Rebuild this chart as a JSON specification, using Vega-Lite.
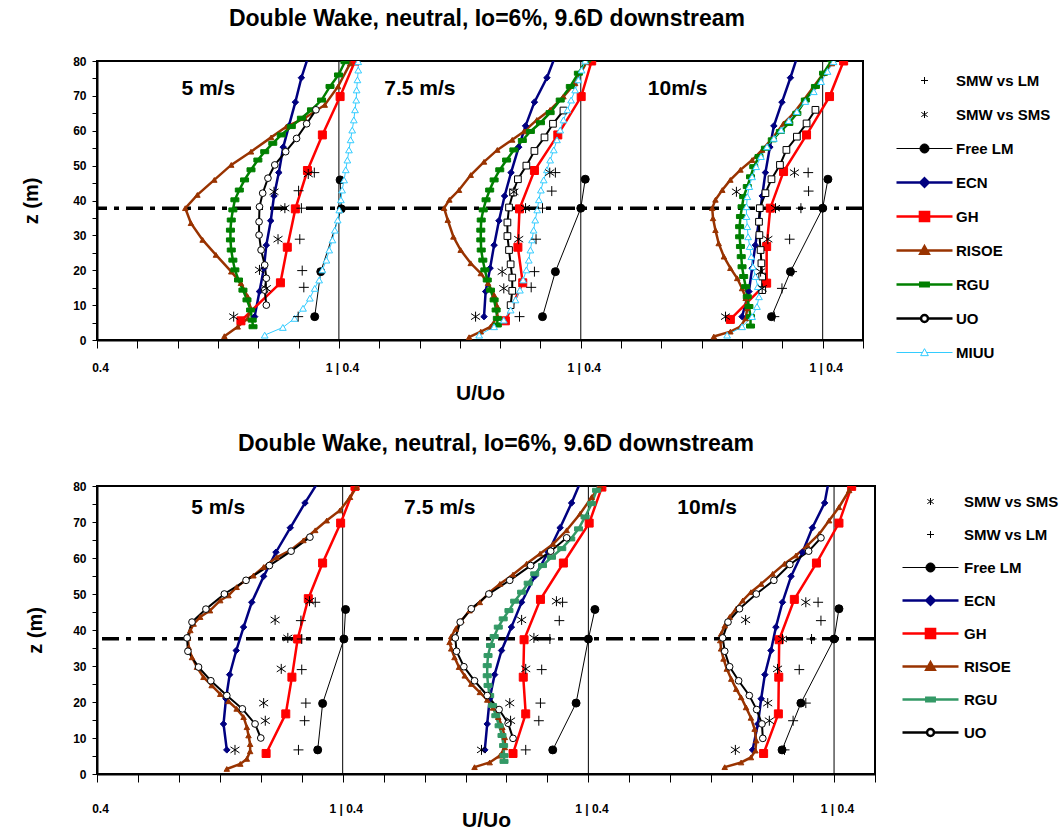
{
"$schema": "https://vega.github.io/schema/vega-lite/v6.json",
"padding": {"left": 20, "top": 7, "right": 0, "bottom": 0},
"background": "white",
"datasets": {
"top": [
{"s":"5","n":"ECN","u":[0.791,0.803,0.814,0.820,0.831,0.839,0.851,0.862,0.876,0.892,0.907,0.928],"z":[6.7,13.9,20.6,27.2,34.2,41.3,48.0,55.3,61.4,68.2,75.2,82.7]},
{"s":"5","n":"GH","u":[0.757,0.855,0.872,0.892,0.922,0.959,1.003,1.04],"z":[5.5,16.4,26.6,37.6,48.6,58.8,69.8,80]},
{"s":"5","n":"RISOE","u":[0.716,0.749,0.774,0.781,0.774,0.757,0.733,0.695,0.662,0.633,0.619,0.649,0.691,0.733,0.782,0.832,0.870,0.915,0.965,0.998,1.028],"z":[1.1,3.8,6.2,9.1,12.4,16.3,19.6,24.4,28.7,33.5,37.8,41.6,45.9,50.2,54.0,58.1,61.2,63.6,67.4,72.7,79.3]},
{"s":"5","n":"RGU","u":[0.787,0.785,0.781,0.772,0.762,0.751,0.742,0.737,0.733,0.731,0.731,0.733,0.737,0.742,0.753,0.766,0.782,0.799,0.816,0.836,0.857,0.882,0.907,0.932,0.957,0.978,0.999,1.015],"z":[3.8,5.7,8.6,11.5,14.3,17.2,20.1,22.9,25.8,28.7,31.5,34.4,37.3,40.2,43.0,45.9,48.8,51.6,54.0,56.4,58.8,61.2,63.6,66.0,68.8,72.7,76.0,79.8]},
{"s":"5","n":"UO","u":[0.820,0.816,0.820,0.816,0.807,0.802,0.802,0.803,0.811,0.824,0.841,0.868,0.895,0.920,0.943],"z":[10.0,14.3,17.7,21.5,25.8,30.1,33.9,38.2,42.1,46.4,50.2,54.0,57.8,62.0,66.0]},
{"s":"5","n":"Free LM","u":[0.940,0.955,1.006,1.003],"z":[6.7,19.6,37.6,45.9]},
{"s":"5","n":"MIUU","u":[0.816,0.861,0.890,0.911,0.928,0.940,0.951,0.959,0.969,0.976,0.984,0.990,0.997,1.001,1.005,1.008,1.013,1.017,1.021,1.025,1.029,1.033,1.037,1.040,1.043,1.044,1.046,1.048,1.048],"z":[1.4,3.6,6.2,9.1,12.0,14.8,17.2,20.1,22.9,25.8,28.7,31.5,34.4,37.3,40.2,43.0,45.9,48.8,51.6,54.5,57.4,60.2,63.1,66.0,68.8,71.7,74.6,77.4,79.8]},
{"s":"5","n":"SMW vs LM","u":[0.899,0.913,0.909,0.903,0.907,0.900,0.939],"z":[6.7,15.1,19.9,28.9,37.8,42.8,48.0]},
{"s":"5","n":"SMW vs SMS","u":[0.739,0.820,0.803,0.849,0.866,0.839,0.924],"z":[6.7,14.8,20.1,28.9,37.8,42.5,47.6]},
{"s":"7.5","n":"ECN","u":[0.760,0.764,0.775,0.785,0.797,0.811,0.827,0.846,0.863,0.885,0.916,0.941],"z":[6.7,13.9,20.6,27.2,34.2,41.3,48.0,55.3,61.4,68.2,75.2,82.7]},
{"s":"7.5","n":"GH","u":[0.813,0.856,0.844,0.848,0.885,0.943,1.001,1.027],"z":[5.5,16.4,26.6,37.6,48.6,58.8,69.8,80]},
{"s":"7.5","n":"RISOE","u":[0.723,0.752,0.776,0.793,0.793,0.785,0.770,0.752,0.727,0.702,0.684,0.670,0.661,0.674,0.698,0.727,0.760,0.793,0.830,0.859,0.891,0.924,0.957,0.986,1.015],"z":[0.8,2.4,3.8,6.7,9.6,12.9,16.3,19.1,22.0,25.8,29.6,34.4,37.8,40.2,43.0,47.3,51.1,54.5,57.4,59.8,63.1,66.0,69.8,73.6,79.8]},
{"s":"7.5","n":"RGU","u":[0.793,0.793,0.790,0.785,0.776,0.768,0.762,0.757,0.753,0.752,0.752,0.753,0.758,0.765,0.774,0.785,0.799,0.816,0.834,0.855,0.875,0.900,0.924,0.949,0.974,0.994,1.015],"z":[4.3,6.2,8.6,11.5,14.3,17.2,20.1,22.9,25.8,28.7,31.5,34.4,37.3,40.2,43.0,45.9,48.8,51.6,54.5,57.2,59.8,62.3,65.2,68.8,72.7,76.5,80.3]},
{"s":"7.5","n":"UO sq","u":[0.826,0.830,0.830,0.826,0.822,0.818,0.818,0.822,0.832,0.844,0.865,0.885,0.910,0.931,0.957],"z":[10.0,14.1,17.9,21.7,25.8,29.8,33.7,38.0,42.3,46.1,50.0,54.2,58.1,62.0,65.8]},
{"s":"7.5","n":"Free LM","u":[0.905,0.937,1.000,1.011],"z":[6.7,19.6,37.8,46.1]},
{"s":"7.5","n":"MIUU","u":[0.748,0.785,0.809,0.826,0.838,0.849,0.857,0.865,0.871,0.875,0.879,0.883,0.887,0.892,0.896,0.901,0.908,0.916,0.924,0.933,0.941,0.949,0.957,0.967,0.976,0.986,0.994,1.002,1.011],"z":[1.4,3.8,5.7,8.6,11.5,14.3,17.2,20.1,22.9,25.8,28.7,31.5,34.4,37.3,40.2,43.0,45.9,48.8,51.6,54.5,57.4,60.2,63.1,66.0,68.8,71.7,74.6,77.4,80.0]},
{"s":"7.5","n":"SMW vs LM","u":[0.848,0.877,0.885,0.889,0.905,0.928,0.937],"z":[6.7,15.1,19.6,28.9,37.8,42.7,48.0]},
{"s":"7.5","n":"SMW vs SMS","u":[0.739,0.809,0.805,0.846,0.863,0.834,0.923],"z":[6.7,14.8,19.6,28.9,37.8,42.5,48.0]},
{"s":"10","n":"ECN","u":[0.800,0.817,0.825,0.833,0.842,0.850,0.858,0.869,0.879,0.899,0.920,0.941],"z":[6.7,13.9,20.6,27.2,34.2,41.3,48.0,55.3,61.4,68.2,75.2,82.7]},
{"s":"10","n":"GH","u":[0.771,0.861,0.861,0.870,0.903,0.960,1.017,1.052],"z":[5.9,16.3,26.8,37.8,48.3,58.8,69.8,80]},
{"s":"10","n":"RISOE","u":[0.730,0.771,0.796,0.809,0.813,0.809,0.800,0.788,0.771,0.755,0.742,0.734,0.728,0.726,0.734,0.751,0.771,0.796,0.825,0.850,0.875,0.903,0.928,0.953,0.978,1.002,1.023],"z":[1.0,2.4,3.8,6.2,9.1,12.0,14.8,17.7,20.6,23.9,27.7,31.5,34.9,37.8,40.2,43.0,45.9,48.8,51.6,54.5,57.8,62.1,65.0,68.8,72.7,76.5,79.3]},
{"s":"10","n":"RGU","u":[0.821,0.821,0.817,0.813,0.809,0.804,0.800,0.798,0.796,0.794,0.794,0.796,0.800,0.804,0.813,0.821,0.829,0.842,0.858,0.875,0.895,0.916,0.936,0.957,0.982,1.002,1.023],"z":[4.0,6.7,9.6,12.4,15.3,18.2,21.0,23.9,26.8,29.6,32.5,35.4,38.2,41.1,44.0,46.8,49.7,52.6,55.0,57.4,59.8,62.1,65.0,68.8,72.7,76.5,80.3]},
{"s":"10","n":"UO sq","u":[0.850,0.850,0.848,0.846,0.843,0.842,0.844,0.858,0.873,0.894,0.910,0.936,0.960,0.982],"z":[14.3,18.2,22.0,25.8,30.1,33.9,37.8,42.1,46.1,50.2,54.5,58.3,62.1,66.0]},
{"s":"10","n":"Free LM","u":[0.873,0.920,1.000,1.013],"z":[6.7,19.6,37.8,46.1]},
{"s":"10","n":"MIUU","u":[0.763,0.800,0.825,0.837,0.842,0.839,0.833,0.827,0.823,0.819,0.815,0.813,0.811,0.811,0.813,0.818,0.825,0.835,0.847,0.862,0.879,0.897,0.916,0.936,0.957,0.978,0.996,1.012,1.027],"z":[1.4,3.8,6.7,9.6,12.4,15.3,18.2,21.0,23.9,26.8,29.6,32.5,35.4,38.2,41.1,44.0,46.8,49.7,52.6,55.4,57.8,60.2,62.9,65.5,68.4,71.2,74.1,77.0,79.8]},
{"s":"10","n":"SMW vs LM","u":[0.880,0.899,0.924,0.918,0.946,0.965,0.964],"z":[6.7,14.8,19.6,28.9,37.8,42.7,48.0]},
{"s":"10","n":"SMW vs SMS","u":[0.759,0.850,0.846,0.864,0.883,0.786,0.930],"z":[6.7,14.8,19.6,28.9,37.8,42.5,48.0]}
],
"bottom": [
{"s":"5","n":"ECN","u":[0.717,0.709,0.715,0.724,0.740,0.758,0.778,0.807,0.837,0.872,0.908,0.945],"z":[6.7,13.9,20.9,27.6,34.3,40.8,47.7,54.9,61.6,68.4,75.3,82]},
{"s":"5","n":"GH","u":[0.813,0.861,0.876,0.890,0.916,0.951,0.995,1.030],"z":[5.7,16.7,26.9,37.5,48.7,58.6,69.7,79.9]},
{"s":"5","n":"RISOE","u":[0.717,0.750,0.766,0.774,0.774,0.770,0.766,0.758,0.741,0.721,0.701,0.680,0.660,0.644,0.632,0.624,0.622,0.628,0.636,0.652,0.676,0.701,0.721,0.741,0.762,0.782,0.807,0.839,0.872,0.904,0.933,0.961,0.993,1.018,1.034],"z":[1.4,2.8,4.2,6.3,8.3,10.7,13.0,15.8,18.1,20.2,22.2,24.6,26.9,29.7,32.4,35.2,37.8,39.9,41.7,43.6,45.4,48.2,49.6,51.9,53.8,55.1,57.5,60.2,62.1,64.9,67.7,70.4,73.2,76.9,79.7]},
{"s":"5","n":"UO","u":[0.800,0.786,0.755,0.717,0.678,0.648,0.622,0.620,0.632,0.666,0.711,0.764,0.821,0.874,0.920],"z":[10.0,13.9,18.1,21.8,25.9,29.7,34.1,37.8,42.2,45.8,50.0,53.8,57.9,61.9,65.8]},
{"s":"5","n":"Free LM","u":[0.939,0.951,1.003,1.007],"z":[6.7,19.6,37.5,45.7]},
{"s":"5","n":"SMW vs SMS","u":[0.737,0.811,0.807,0.850,0.866,0.835,0.919],"z":[6.7,14.8,19.7,29.2,37.8,42.8,48.0]},
{"s":"5","n":"SMW vs LM","u":[0.892,0.907,0.910,0.900,0.900,0.898,0.933],"z":[6.7,14.8,19.7,29.0,37.5,42.6,47.7]},
{"s":"7.5","n":"ECN","u":[0.747,0.753,0.759,0.771,0.788,0.812,0.837,0.869,0.902,0.931,0.959,0.984],"z":[6.7,13.9,20.9,27.6,34.3,40.8,47.7,54.9,61.6,68.4,75.3,82]},
{"s":"7.5","n":"GH","u":[0.816,0.847,0.841,0.843,0.883,0.939,1.002,1.033],"z":[5.7,16.7,26.9,37.3,48.5,58.6,69.7,79.7]},
{"s":"7.5","n":"RISOE","u":[0.722,0.759,0.784,0.796,0.796,0.790,0.780,0.767,0.753,0.735,0.714,0.698,0.684,0.673,0.665,0.661,0.665,0.676,0.690,0.710,0.735,0.759,0.784,0.816,0.849,0.882,0.914,0.947,0.980,1.008,1.029],"z":[1.9,3.2,5.1,7.4,10.2,13.0,15.8,18.4,20.6,22.7,25.0,27.3,29.7,32.4,34.8,36.6,38.2,40.3,42.6,45.4,47.7,50.5,52.8,55.4,58.4,61.2,63.9,67.7,72.3,76.9,79.9]},
{"s":"7.5","n":"RGU","u":[0.794,0.794,0.793,0.789,0.782,0.774,0.766,0.759,0.755,0.753,0.753,0.755,0.761,0.770,0.780,0.792,0.806,0.820,0.837,0.853,0.869,0.888,0.910,0.935,0.957,0.976,0.992,1.008,1.020,1.029],"z":[3.5,5.1,7.9,10.7,13.4,16.2,19.0,21.8,24.6,27.3,30.1,32.9,35.7,38.2,40.8,43.1,45.4,48.0,50.5,53.0,55.6,57.9,60.2,62.6,65.3,68.1,71.4,75.1,78.8,81.6]},
{"s":"7.5","n":"UO","u":[0.816,0.804,0.782,0.753,0.722,0.696,0.678,0.675,0.687,0.714,0.757,0.808,0.859,0.908,0.947],"z":[9.9,14.1,17.9,21.8,25.9,29.8,34.1,37.8,42.2,45.9,50.0,53.8,57.9,61.9,65.6]},
{"s":"7.5","n":"Free LM","u":[0.913,0.970,1.000,1.016],"z":[6.7,19.7,37.5,45.7]},
{"s":"7.5","n":"SMW vs SMS","u":[0.739,0.810,0.808,0.847,0.867,0.837,0.922],"z":[6.7,14.8,19.7,29.2,37.8,42.8,48.0]},
{"s":"7.5","n":"SMW vs LM","u":[0.847,0.879,0.883,0.886,0.906,0.929,0.937],"z":[6.7,14.8,19.7,29.0,37.5,42.6,47.7]},
{"s":"10","n":"ECN","u":[0.801,0.814,0.822,0.831,0.846,0.858,0.874,0.895,0.923,0.947,0.977,0.988],"z":[6.7,13.9,20.9,27.6,34.3,40.8,47.7,54.9,61.6,68.4,75.3,82]},
{"s":"10","n":"GH","u":[0.828,0.864,0.865,0.866,0.903,0.957,1.012,1.043],"z":[5.7,16.7,26.9,37.3,48.5,58.6,69.7,79.9]},
{"s":"10","n":"RISOE","u":[0.733,0.773,0.797,0.808,0.810,0.806,0.797,0.785,0.773,0.761,0.749,0.738,0.730,0.724,0.722,0.724,0.733,0.745,0.761,0.777,0.797,0.822,0.850,0.879,0.907,0.935,0.964,0.988,1.012,1.037],"z":[1.9,3.2,4.6,6.5,9.3,12.5,15.6,18.5,21.3,23.6,26.4,29.2,32.0,34.8,37.1,38.9,41.2,43.6,45.9,48.2,50.5,52.8,55.6,58.4,60.7,63.5,66.7,70.4,74.1,78.8]},
{"s":"10","n":"UO","u":[0.826,0.824,0.811,0.793,0.767,0.745,0.733,0.728,0.741,0.769,0.810,0.853,0.892,0.938,0.968],"z":[9.9,13.9,17.9,21.8,25.9,29.8,34.1,37.8,42.2,45.9,50.0,53.8,58.2,61.9,65.6]},
{"s":"10","n":"Free LM","u":[0.873,0.919,1.000,1.012],"z":[6.7,19.7,37.5,45.9]},
{"s":"10","n":"SMW vs SMS","u":[0.759,0.842,0.838,0.862,0.874,0.784,0.931],"z":[6.7,14.8,19.7,29.2,37.5,42.8,47.7]},
{"s":"10","n":"SMW vs LM","u":[0.879,0.900,0.931,0.915,0.945,0.968,0.961],"z":[6.7,14.8,19.7,29.0,37.5,42.6,47.7]}
]
},
"spacing": 28,
"resolve": {"scale": {"stroke": "independent", "fill": "independent", "shape": "independent"}},
"vconcat": [
{
"data": {"name": "top"},
"transform": [{"flatten": ["u", "z"]}],
"title": {"text": "Double Wake, neutral, Io=6%, 9.6D downstream", "offset": 24, "dx": 7},
"width": 766, "height": 279,
"resolve": {"scale": {"x": "independent", "y": "independent"}},
"layer": [
{"data": {"values": [{}]}, "mark": {"type": "rule", "color": "black", "strokeWidth": 3.5, "strokeDash": [17, 7, 5, 7]}, "encoding": {"y": {"datum": 37.8, "type": "quantitative", "scale": {"domain": [0, 80], "nice": false, "zero": false}, "axis": null}}},
{"layer": [
 {"data": {"values": [{}]}, "mark": {"type": "rule", "color": "black", "strokeWidth": 1}, "encoding": {
   "x": {"datum": 1, "type": "quantitative", "scale": {"domain": [0.4, 2.3], "nice": false, "zero": false}, "axis": {"title": "U/Uo", "orient": "bottom", "values": [0.4,0.5,0.6,0.7,0.8,0.9,1,1.1,1.2,1.3,1.4,1.5,1.6,1.7,1.8,1.9,2,2.1,2.2,2.3], "labelExpr": "abs(datum.value-0.4)<0.01 ? '0.4' : (abs(datum.value-1)<0.01 || abs(datum.value-1.6)<0.01 || abs(datum.value-2.2)<0.01) ? '1 | 0.4' : ''", "labelFlush": false, "labelOverlap": false, "tickSize": 8, "labelPadding": 14, "labelOffset": 3, "titlePadding": 9}},
   "y": {"datum": 0, "type": "quantitative", "scale": {"domain": [0, 80], "nice": false, "zero": false}, "axis": {"title": "z (m)", "orient": "left", "values": [0,5,10,15,20,25,30,35,40,45,50,55,60,65,70,75,80], "labelExpr": "datum.value % 10 == 0 ? datum.label : ''", "tickSize": 5, "labelPadding": 6, "titlePadding": 31}},
   "y2": {"datum": 80}}},
 {"transform": [{"filter": "datum.s == '5'"}],
  "encoding": {
   "x": {"field": "u", "type": "quantitative", "scale": {"domain": [0.4, 2.3], "nice": false, "zero": false}, "axis": {"title": "U/Uo", "orient": "bottom", "values": [0.4,0.5,0.6,0.7,0.8,0.9,1,1.1,1.2,1.3,1.4,1.5,1.6,1.7,1.8,1.9,2,2.1,2.2,2.3], "labelExpr": "abs(datum.value-0.4)<0.01 ? '0.4' : (abs(datum.value-1)<0.01 || abs(datum.value-1.6)<0.01 || abs(datum.value-2.2)<0.01) ? '1 | 0.4' : ''", "labelFlush": false, "labelOverlap": false, "tickSize": 8, "labelPadding": 14, "labelOffset": 3, "titlePadding": 9}},
   "y": {"field": "z", "type": "quantitative", "scale": {"domain": [0, 80], "nice": false, "zero": false}, "axis": {"title": "z (m)", "orient": "left", "values": [0,5,10,15,20,25,30,35,40,45,50,55,60,65,70,75,80], "labelExpr": "datum.value % 10 == 0 ? datum.label : ''", "tickSize": 5, "labelPadding": 6, "titlePadding": 31}},
   "stroke": {"field": "n", "type": "nominal", "scale": {"domain": ["SMW vs LM","SMW vs SMS","Free LM","ECN","GH","RISOE","RGU","UO","MIUU","UO sq"], "range": ["#000000","#000000","#000000","#000080","#ff0000","#993300","#008000","#000000","#33ccff","#000000"]},
     "legend": {"title": null, "orient": "right", "offset": 42, "padding": 12, "values": ["SMW vs LM","SMW vs SMS","Free LM","ECN","GH","RISOE","RGU","UO","MIUU"], "labelOffset": 24, "rowPadding": 13, "gridAlign": "all", "symbolSize": 49,
      "encoding": {"symbols": {
       "shape": {"value": {"expr": "datum.value=='SMW vs LM' ? 'M-1,0H1M0,-1V1' : datum.value=='SMW vs SMS' ? 'M0,-1V1M-0.9,-0.6L0.9,0.6M-0.9,0.6L0.9,-0.6' : datum.value=='Free LM' ? 'M-8,0H8M-1.3,0A1.3,1.3,0,1,0,1.3,0A1.3,1.3,0,1,0,-1.3,0Z' : datum.value=='ECN' ? 'M-8,0H8M0,-1.2L1.2,0L0,1.2L-1.2,0Z' : datum.value=='GH' ? 'M-8,0H8M-1.3,-1.3H1.3V1.3H-1.3Z' : datum.value=='RISOE' ? 'M-8,0H8M0,-1.2L1.2,0.9H-1.2Z' : datum.value=='RGU' ? 'M-8,0H8M-1.2,-0.5H1.2V0.5H-1.2Z' : datum.value=='UO' ? 'M-8,0H-1M1,0H8M-1,0A1,1,0,1,0,1,0A1,1,0,1,0,-1,0Z' : 'M-8,0H-0.6M0.6,0H8M0,-1.1L1.1,0.9H-1.1Z'"}},
       "fill": {"value": {"expr": "datum.value=='Free LM' ? '#000000' : datum.value=='ECN' ? '#000080' : datum.value=='GH' ? '#ff0000' : datum.value=='RISOE' ? '#993300' : datum.value=='RGU' ? '#008000' : (datum.value=='UO' || datum.value=='MIUU') ? '#ffffff' : 'transparent'"}},
       "strokeWidth": {"value": {"expr": "(datum.value=='Free LM' || datum.value=='MIUU' || datum.value=='SMW vs LM' || datum.value=='SMW vs SMS') ? 1 : 2.5"}},
       "size": {"value": 49}
      }}}}
  },
  "layer": [
   {"mark": {"type": "line", "clip": true}, "transform": [{"filter": "datum.n != 'SMW vs LM' && datum.n != 'SMW vs SMS'"}], "encoding": {"strokeWidth": {"condition": [{"test": "datum.n == 'Free LM' || datum.n == 'MIUU'", "value": 1}, {"test": "datum.n == 'UO' || datum.n == 'UO sq'", "value": 2}], "value": 2.5}, "order": {"field": "z", "type": "quantitative"}}},
   {"mark": {"type": "point", "filled": true, "opacity": 1, "strokeWidth": 1, "clip": true}, "encoding": {
     "shape": {"field": "n", "type": "nominal", "scale": {"domain": ["UO sq","MIUU","UO","RGU","RISOE","GH","ECN","Free LM","SMW vs SMS","SMW vs LM"], "range": ["square","triangle-up","circle","M-1,-0.5H1V0.5H-1Z","triangle-up","square","diamond","circle","M0,-1V1M-0.9,-0.6L0.9,0.6M-0.9,0.6L0.9,-0.6","M-1,0H1M0,-1V1"]}, "legend": null},
     "fill": {"field": "n", "type": "nominal", "scale": {"domain": ["UO sq","MIUU","UO","RGU","RISOE","GH","ECN","Free LM","SMW vs SMS","SMW vs LM"], "range": ["#ffffff","#ffffff","#ffffff","#008000","#993300","#ff0000","#000080","#000000","transparent","transparent"]}, "legend": null},
     "size": {"condition": [{"test": "datum.n=='SMW vs LM' || datum.n=='SMW vs SMS'", "value": 100}, {"test": "datum.n=='GH' || datum.n=='Free LM' || datum.n=='RGU'", "value": 64}, {"test": "datum.n=='ECN'", "value": 42}, {"test": "datum.n=='RISOE'", "value": 30}], "value": 45}
   }}
  ]
 },
 {"data": {"values": [{}]}, "mark": {"type": "text", "font": "Liberation Sans", "fontSize": 21, "fontWeight": "bold", "color": "black"}, "encoding": {
   "x": {"datum": 0.676, "type": "quantitative", "scale": {"domain": [0.4, 2.3], "nice": false, "zero": false}, "axis": {"title": "U/Uo", "orient": "bottom", "values": [0.4,0.5,0.6,0.7,0.8,0.9,1,1.1,1.2,1.3,1.4,1.5,1.6,1.7,1.8,1.9,2,2.1,2.2,2.3], "labelExpr": "abs(datum.value-0.4)<0.01 ? '0.4' : (abs(datum.value-1)<0.01 || abs(datum.value-1.6)<0.01 || abs(datum.value-2.2)<0.01) ? '1 | 0.4' : ''", "labelFlush": false, "labelOverlap": false, "tickSize": 8, "labelPadding": 14, "labelOffset": 3, "titlePadding": 9}},
   "y": {"datum": 72, "type": "quantitative", "scale": {"domain": [0, 80], "nice": false, "zero": false}, "axis": {"title": "z (m)", "orient": "left", "values": [0,5,10,15,20,25,30,35,40,45,50,55,60,65,70,75,80], "labelExpr": "datum.value % 10 == 0 ? datum.label : ''", "tickSize": 5, "labelPadding": 6, "titlePadding": 31}},
   "text": {"value": "5 m/s"}}}
]},
{"layer": [
 {"data": {"values": [{}]}, "mark": {"type": "rule", "color": "black", "strokeWidth": 1}, "encoding": {"x": {"datum": 1, "type": "quantitative", "scale": {"domain": [-0.2, 1.7], "nice": false, "zero": false}, "axis": null}, "y": {"datum": 0, "type": "quantitative", "scale": {"domain": [0, 80], "nice": false, "zero": false}, "axis": null}, "y2": {"datum": 80}}},
 {"transform": [{"filter": "datum.s == '7.5'"}],
  "encoding": {
   "x": {"field": "u", "type": "quantitative", "scale": {"domain": [-0.2, 1.7], "nice": false, "zero": false}, "axis": null},
   "y": {"field": "z", "type": "quantitative", "scale": {"domain": [0, 80], "nice": false, "zero": false}, "axis": null},
   "stroke": {"field": "n", "type": "nominal", "scale": {"domain": ["SMW vs LM","SMW vs SMS","Free LM","ECN","GH","RISOE","RGU","UO","MIUU","UO sq"], "range": ["#000000","#000000","#000000","#000080","#ff0000","#993300","#008000","#000000","#33ccff","#000000"]}}
  },
  "layer": [
   {"mark": {"type": "line", "clip": true}, "transform": [{"filter": "datum.n != 'SMW vs LM' && datum.n != 'SMW vs SMS'"}], "encoding": {"strokeWidth": {"condition": [{"test": "datum.n == 'Free LM' || datum.n == 'MIUU'", "value": 1}, {"test": "datum.n == 'UO' || datum.n == 'UO sq'", "value": 2}], "value": 2.5}, "order": {"field": "z", "type": "quantitative"}}},
   {"mark": {"type": "point", "filled": true, "opacity": 1, "strokeWidth": 1, "clip": true}, "encoding": {
     "shape": {"field": "n", "type": "nominal", "scale": {"domain": ["UO sq","MIUU","UO","RGU","RISOE","GH","ECN","Free LM","SMW vs SMS","SMW vs LM"], "range": ["square","triangle-up","circle","M-1,-0.5H1V0.5H-1Z","triangle-up","square","diamond","circle","M0,-1V1M-0.9,-0.6L0.9,0.6M-0.9,0.6L0.9,-0.6","M-1,0H1M0,-1V1"]}, "legend": null},
     "fill": {"field": "n", "type": "nominal", "scale": {"domain": ["UO sq","MIUU","UO","RGU","RISOE","GH","ECN","Free LM","SMW vs SMS","SMW vs LM"], "range": ["#ffffff","#ffffff","#ffffff","#008000","#993300","#ff0000","#000080","#000000","transparent","transparent"]}, "legend": null},
     "size": {"condition": [{"test": "datum.n=='SMW vs LM' || datum.n=='SMW vs SMS'", "value": 100}, {"test": "datum.n=='GH' || datum.n=='Free LM' || datum.n=='RGU'", "value": 64}, {"test": "datum.n=='ECN'", "value": 42}, {"test": "datum.n=='RISOE'", "value": 30}], "value": 45}
   }}
  ]
 },
 {"data": {"values": [{}]}, "mark": {"type": "text", "font": "Liberation Sans", "fontSize": 21, "fontWeight": "bold", "color": "black"}, "encoding": {"x": {"datum": 0.601, "type": "quantitative", "scale": {"domain": [-0.2, 1.7], "nice": false, "zero": false}, "axis": null}, "y": {"datum": 72, "type": "quantitative", "scale": {"domain": [0, 80], "nice": false, "zero": false}, "axis": null}, "text": {"value": "7.5 m/s"}}}
]},
{"layer": [
 {"data": {"values": [{}]}, "mark": {"type": "rule", "color": "black", "strokeWidth": 1}, "encoding": {"x": {"datum": 1, "type": "quantitative", "scale": {"domain": [-0.8, 1.1], "nice": false, "zero": false}, "axis": null}, "y": {"datum": 0, "type": "quantitative", "scale": {"domain": [0, 80], "nice": false, "zero": false}, "axis": null}, "y2": {"datum": 80}}},
 {"transform": [{"filter": "datum.s == '10'"}],
  "encoding": {
   "x": {"field": "u", "type": "quantitative", "scale": {"domain": [-0.8, 1.1], "nice": false, "zero": false}, "axis": null},
   "y": {"field": "z", "type": "quantitative", "scale": {"domain": [0, 80], "nice": false, "zero": false}, "axis": null},
   "stroke": {"field": "n", "type": "nominal", "scale": {"domain": ["SMW vs LM","SMW vs SMS","Free LM","ECN","GH","RISOE","RGU","UO","MIUU","UO sq"], "range": ["#000000","#000000","#000000","#000080","#ff0000","#993300","#008000","#000000","#33ccff","#000000"]}}
  },
  "layer": [
   {"mark": {"type": "line", "clip": true}, "transform": [{"filter": "datum.n != 'SMW vs LM' && datum.n != 'SMW vs SMS'"}], "encoding": {"strokeWidth": {"condition": [{"test": "datum.n == 'Free LM' || datum.n == 'MIUU'", "value": 1}, {"test": "datum.n == 'UO' || datum.n == 'UO sq'", "value": 2}], "value": 2.5}, "order": {"field": "z", "type": "quantitative"}}},
   {"mark": {"type": "point", "filled": true, "opacity": 1, "strokeWidth": 1, "clip": true}, "encoding": {
     "shape": {"field": "n", "type": "nominal", "scale": {"domain": ["UO sq","MIUU","UO","RGU","RISOE","GH","ECN","Free LM","SMW vs SMS","SMW vs LM"], "range": ["square","triangle-up","circle","M-1,-0.5H1V0.5H-1Z","triangle-up","square","diamond","circle","M0,-1V1M-0.9,-0.6L0.9,0.6M-0.9,0.6L0.9,-0.6","M-1,0H1M0,-1V1"]}, "legend": null},
     "fill": {"field": "n", "type": "nominal", "scale": {"domain": ["UO sq","MIUU","UO","RGU","RISOE","GH","ECN","Free LM","SMW vs SMS","SMW vs LM"], "range": ["#ffffff","#ffffff","#ffffff","#008000","#993300","#ff0000","#000080","#000000","transparent","transparent"]}, "legend": null},
     "size": {"condition": [{"test": "datum.n=='SMW vs LM' || datum.n=='SMW vs SMS'", "value": 100}, {"test": "datum.n=='GH' || datum.n=='Free LM' || datum.n=='RGU'", "value": 64}, {"test": "datum.n=='ECN'", "value": 42}, {"test": "datum.n=='RISOE'", "value": 30}], "value": 45}
   }}
  ]
 },
 {"data": {"values": [{}]}, "mark": {"type": "text", "font": "Liberation Sans", "fontSize": 21, "fontWeight": "bold", "color": "black"}, "encoding": {"x": {"datum": 0.64, "type": "quantitative", "scale": {"domain": [-0.8, 1.1], "nice": false, "zero": false}, "axis": null}, "y": {"datum": 72, "type": "quantitative", "scale": {"domain": [0, 80], "nice": false, "zero": false}, "axis": null}, "text": {"value": "10m/s"}}}
]}
]
},
{
"data": {"name": "bottom"},
"transform": [{"flatten": ["u", "z"]}],
"title": {"text": "Double Wake, neutral, Io=6%, 9.6D downstream", "offset": 24, "dx": 10},
"width": 778, "height": 288,
"resolve": {"scale": {"x": "independent", "y": "independent"}},
"layer": [
{"data": {"values": [{}]}, "mark": {"type": "rule", "color": "black", "strokeWidth": 3.5, "strokeDash": [17, 7, 5, 7]}, "encoding": {"y": {"datum": 37.6, "type": "quantitative", "scale": {"domain": [0, 80], "nice": false, "zero": false}, "axis": null}}},
{"layer": [
 {"data": {"values": [{}]}, "mark": {"type": "rule", "color": "black", "strokeWidth": 1}, "encoding": {
   "x": {"datum": 1, "type": "quantitative", "scale": {"domain": [0.4, 2.3], "nice": false, "zero": false}, "axis": {"title": "U/Uo", "orient": "bottom", "values": [0.4,0.5,0.6,0.7,0.8,0.9,1,1.1,1.2,1.3,1.4,1.5,1.6,1.7,1.8,1.9,2,2.1,2.2,2.3], "labelExpr": "abs(datum.value-0.4)<0.01 ? '0.4' : (abs(datum.value-1)<0.01 || abs(datum.value-1.6)<0.01 || abs(datum.value-2.2)<0.01) ? '1 | 0.4' : ''", "labelFlush": false, "labelOverlap": false, "tickSize": 8, "labelPadding": 21, "labelOffset": 3, "titlePadding": -5}},
   "y": {"datum": 0, "type": "quantitative", "scale": {"domain": [0, 80], "nice": false, "zero": false}, "axis": {"title": "z (m)", "orient": "left", "values": [0,5,10,15,20,25,30,35,40,45,50,55,60,65,70,75,80], "labelExpr": "datum.value % 10 == 0 ? datum.label : ''", "tickSize": 5, "labelPadding": 6, "titlePadding": 27}},
   "y2": {"datum": 80}}},
 {"transform": [{"filter": "datum.s == '5'"}],
  "encoding": {
   "x": {"field": "u", "type": "quantitative", "scale": {"domain": [0.4, 2.3], "nice": false, "zero": false}, "axis": {"title": "U/Uo", "orient": "bottom", "values": [0.4,0.5,0.6,0.7,0.8,0.9,1,1.1,1.2,1.3,1.4,1.5,1.6,1.7,1.8,1.9,2,2.1,2.2,2.3], "labelExpr": "abs(datum.value-0.4)<0.01 ? '0.4' : (abs(datum.value-1)<0.01 || abs(datum.value-1.6)<0.01 || abs(datum.value-2.2)<0.01) ? '1 | 0.4' : ''", "labelFlush": false, "labelOverlap": false, "tickSize": 8, "labelPadding": 21, "labelOffset": 3, "titlePadding": -5}},
   "y": {"field": "z", "type": "quantitative", "scale": {"domain": [0, 80], "nice": false, "zero": false}, "axis": {"title": "z (m)", "orient": "left", "values": [0,5,10,15,20,25,30,35,40,45,50,55,60,65,70,75,80], "labelExpr": "datum.value % 10 == 0 ? datum.label : ''", "tickSize": 5, "labelPadding": 6, "titlePadding": 27}},
   "stroke": {"field": "n", "type": "nominal", "scale": {"domain": ["SMW vs SMS","SMW vs LM","Free LM","ECN","GH","RISOE","RGU","UO"], "range": ["#000000","#000000","#000000","#000080","#ff0000","#993300","#339966","#000000"]},
     "legend": {"title": null, "orient": "right", "offset": 40, "padding": 8, "values": ["SMW vs SMS","SMW vs LM","Free LM","ECN","GH","RISOE","RGU","UO"], "labelOffset": 26, "rowPadding": 12, "gridAlign": "all", "symbolSize": 49,
      "encoding": {"symbols": {
       "shape": {"value": {"expr": "datum.value=='SMW vs LM' ? 'M-1,0H1M0,-1V1' : datum.value=='SMW vs SMS' ? 'M0,-1V1M-0.9,-0.6L0.9,0.6M-0.9,0.6L0.9,-0.6' : datum.value=='Free LM' ? 'M-8,0H8M-1.3,0A1.3,1.3,0,1,0,1.3,0A1.3,1.3,0,1,0,-1.3,0Z' : datum.value=='ECN' ? 'M-8,0H8M0,-1.2L1.2,0L0,1.2L-1.2,0Z' : datum.value=='GH' ? 'M-8,0H8M-1.3,-1.3H1.3V1.3H-1.3Z' : datum.value=='RISOE' ? 'M-8,0H8M0,-1.2L1.2,0.9H-1.2Z' : datum.value=='RGU' ? 'M-8,0H8M-1.2,-0.5H1.2V0.5H-1.2Z' : 'M-8,0H-1M1,0H8M-1,0A1,1,0,1,0,1,0A1,1,0,1,0,-1,0Z'"}},
       "fill": {"value": {"expr": "datum.value=='Free LM' ? '#000000' : datum.value=='ECN' ? '#000080' : datum.value=='GH' ? '#ff0000' : datum.value=='RISOE' ? '#993300' : datum.value=='RGU' ? '#339966' : datum.value=='UO' ? '#ffffff' : 'transparent'"}},
       "strokeWidth": {"value": {"expr": "(datum.value=='Free LM' || datum.value=='SMW vs LM' || datum.value=='SMW vs SMS') ? 1 : 2.5"}},
       "size": {"value": 49}
      }}}}
  },
  "layer": [
   {"mark": {"type": "line", "clip": true}, "transform": [{"filter": "datum.n != 'SMW vs LM' && datum.n != 'SMW vs SMS'"}], "encoding": {"strokeWidth": {"condition": [{"test": "datum.n == 'Free LM'", "value": 1}, {"test": "datum.n == 'UO'", "value": 2}], "value": 2.5}, "order": {"field": "z", "type": "quantitative"}}},
   {"mark": {"type": "point", "filled": true, "opacity": 1, "strokeWidth": 1, "clip": true}, "encoding": {
     "shape": {"field": "n", "type": "nominal", "scale": {"domain": ["UO","RGU","RISOE","GH","ECN","Free LM","SMW vs LM","SMW vs SMS"], "range": ["circle","M-1,-0.5H1V0.5H-1Z","triangle-up","square","diamond","circle","M-1,0H1M0,-1V1","M0,-1V1M-0.9,-0.6L0.9,0.6M-0.9,0.6L0.9,-0.6"]}, "legend": null},
     "fill": {"field": "n", "type": "nominal", "scale": {"domain": ["UO","RGU","RISOE","GH","ECN","Free LM","SMW vs LM","SMW vs SMS"], "range": ["#ffffff","#339966","#993300","#ff0000","#000080","#000000","transparent","transparent"]}, "legend": null},
     "size": {"condition": [{"test": "datum.n=='SMW vs LM' || datum.n=='SMW vs SMS'", "value": 100}, {"test": "datum.n=='GH' || datum.n=='Free LM' || datum.n=='RGU'", "value": 64}, {"test": "datum.n=='ECN'", "value": 42}, {"test": "datum.n=='RISOE'", "value": 30}], "value": 45}
   }}
  ]
 },
 {"data": {"values": [{}]}, "mark": {"type": "text", "font": "Liberation Sans", "fontSize": 21, "fontWeight": "bold", "color": "black"}, "encoding": {
   "x": {"datum": 0.696, "type": "quantitative", "scale": {"domain": [0.4, 2.3], "nice": false, "zero": false}, "axis": {"title": "U/Uo", "orient": "bottom", "values": [0.4,0.5,0.6,0.7,0.8,0.9,1,1.1,1.2,1.3,1.4,1.5,1.6,1.7,1.8,1.9,2,2.1,2.2,2.3], "labelExpr": "abs(datum.value-0.4)<0.01 ? '0.4' : (abs(datum.value-1)<0.01 || abs(datum.value-1.6)<0.01 || abs(datum.value-2.2)<0.01) ? '1 | 0.4' : ''", "labelFlush": false, "labelOverlap": false, "tickSize": 8, "labelPadding": 21, "labelOffset": 3, "titlePadding": -5}},
   "y": {"datum": 74, "type": "quantitative", "scale": {"domain": [0, 80], "nice": false, "zero": false}, "axis": {"title": "z (m)", "orient": "left", "values": [0,5,10,15,20,25,30,35,40,45,50,55,60,65,70,75,80], "labelExpr": "datum.value % 10 == 0 ? datum.label : ''", "tickSize": 5, "labelPadding": 6, "titlePadding": 27}},
   "text": {"value": "5 m/s"}}}
]},
{"layer": [
 {"data": {"values": [{}]}, "mark": {"type": "rule", "color": "black", "strokeWidth": 1}, "encoding": {"x": {"datum": 1, "type": "quantitative", "scale": {"domain": [-0.2, 1.7], "nice": false, "zero": false}, "axis": null}, "y": {"datum": 0, "type": "quantitative", "scale": {"domain": [0, 80], "nice": false, "zero": false}, "axis": null}, "y2": {"datum": 80}}},
 {"transform": [{"filter": "datum.s == '7.5'"}],
  "encoding": {
   "x": {"field": "u", "type": "quantitative", "scale": {"domain": [-0.2, 1.7], "nice": false, "zero": false}, "axis": null},
   "y": {"field": "z", "type": "quantitative", "scale": {"domain": [0, 80], "nice": false, "zero": false}, "axis": null},
   "stroke": {"field": "n", "type": "nominal", "scale": {"domain": ["SMW vs SMS","SMW vs LM","Free LM","ECN","GH","RISOE","RGU","UO"], "range": ["#000000","#000000","#000000","#000080","#ff0000","#993300","#339966","#000000"]}}
  },
  "layer": [
   {"mark": {"type": "line", "clip": true}, "transform": [{"filter": "datum.n != 'SMW vs LM' && datum.n != 'SMW vs SMS'"}], "encoding": {"strokeWidth": {"condition": [{"test": "datum.n == 'Free LM'", "value": 1}, {"test": "datum.n == 'UO'", "value": 2}], "value": 2.5}, "order": {"field": "z", "type": "quantitative"}}},
   {"mark": {"type": "point", "filled": true, "opacity": 1, "strokeWidth": 1, "clip": true}, "encoding": {
     "shape": {"field": "n", "type": "nominal", "scale": {"domain": ["UO","RGU","RISOE","GH","ECN","Free LM","SMW vs LM","SMW vs SMS"], "range": ["circle","M-1,-0.5H1V0.5H-1Z","triangle-up","square","diamond","circle","M-1,0H1M0,-1V1","M0,-1V1M-0.9,-0.6L0.9,0.6M-0.9,0.6L0.9,-0.6"]}, "legend": null},
     "fill": {"field": "n", "type": "nominal", "scale": {"domain": ["UO","RGU","RISOE","GH","ECN","Free LM","SMW vs LM","SMW vs SMS"], "range": ["#ffffff","#339966","#993300","#ff0000","#000080","#000000","transparent","transparent"]}, "legend": null},
     "size": {"condition": [{"test": "datum.n=='SMW vs LM' || datum.n=='SMW vs SMS'", "value": 100}, {"test": "datum.n=='GH' || datum.n=='Free LM' || datum.n=='RGU'", "value": 64}, {"test": "datum.n=='ECN'", "value": 42}, {"test": "datum.n=='RISOE'", "value": 30}], "value": 45}
   }}
  ]
 },
 {"data": {"values": [{}]}, "mark": {"type": "text", "font": "Liberation Sans", "fontSize": 21, "fontWeight": "bold", "color": "black"}, "encoding": {"x": {"datum": 0.637, "type": "quantitative", "scale": {"domain": [-0.2, 1.7], "nice": false, "zero": false}, "axis": null}, "y": {"datum": 74, "type": "quantitative", "scale": {"domain": [0, 80], "nice": false, "zero": false}, "axis": null}, "text": {"value": "7.5 m/s"}}}
]},
{"layer": [
 {"data": {"values": [{}]}, "mark": {"type": "rule", "color": "black", "strokeWidth": 1}, "encoding": {"x": {"datum": 1, "type": "quantitative", "scale": {"domain": [-0.8, 1.1], "nice": false, "zero": false}, "axis": null}, "y": {"datum": 0, "type": "quantitative", "scale": {"domain": [0, 80], "nice": false, "zero": false}, "axis": null}, "y2": {"datum": 80}}},
 {"transform": [{"filter": "datum.s == '10'"}],
  "encoding": {
   "x": {"field": "u", "type": "quantitative", "scale": {"domain": [-0.8, 1.1], "nice": false, "zero": false}, "axis": null},
   "y": {"field": "z", "type": "quantitative", "scale": {"domain": [0, 80], "nice": false, "zero": false}, "axis": null},
   "stroke": {"field": "n", "type": "nominal", "scale": {"domain": ["SMW vs SMS","SMW vs LM","Free LM","ECN","GH","RISOE","RGU","UO"], "range": ["#000000","#000000","#000000","#000080","#ff0000","#993300","#339966","#000000"]}}
  },
  "layer": [
   {"mark": {"type": "line", "clip": true}, "transform": [{"filter": "datum.n != 'SMW vs LM' && datum.n != 'SMW vs SMS'"}], "encoding": {"strokeWidth": {"condition": [{"test": "datum.n == 'Free LM'", "value": 1}, {"test": "datum.n == 'UO'", "value": 2}], "value": 2.5}, "order": {"field": "z", "type": "quantitative"}}},
   {"mark": {"type": "point", "filled": true, "opacity": 1, "strokeWidth": 1, "clip": true}, "encoding": {
     "shape": {"field": "n", "type": "nominal", "scale": {"domain": ["UO","RGU","RISOE","GH","ECN","Free LM","SMW vs LM","SMW vs SMS"], "range": ["circle","M-1,-0.5H1V0.5H-1Z","triangle-up","square","diamond","circle","M-1,0H1M0,-1V1","M0,-1V1M-0.9,-0.6L0.9,0.6M-0.9,0.6L0.9,-0.6"]}, "legend": null},
     "fill": {"field": "n", "type": "nominal", "scale": {"domain": ["UO","RGU","RISOE","GH","ECN","Free LM","SMW vs LM","SMW vs SMS"], "range": ["#ffffff","#339966","#993300","#ff0000","#000080","#000000","transparent","transparent"]}, "legend": null},
     "size": {"condition": [{"test": "datum.n=='SMW vs LM' || datum.n=='SMW vs SMS'", "value": 100}, {"test": "datum.n=='GH' || datum.n=='Free LM' || datum.n=='RGU'", "value": 64}, {"test": "datum.n=='ECN'", "value": 42}, {"test": "datum.n=='RISOE'", "value": 30}], "value": 45}
   }}
  ]
 },
 {"data": {"values": [{}]}, "mark": {"type": "text", "font": "Liberation Sans", "fontSize": 21, "fontWeight": "bold", "color": "black"}, "encoding": {"x": {"datum": 0.69, "type": "quantitative", "scale": {"domain": [-0.8, 1.1], "nice": false, "zero": false}, "axis": null}, "y": {"datum": 74, "type": "quantitative", "scale": {"domain": [0, 80], "nice": false, "zero": false}, "axis": null}, "text": {"value": "10m/s"}}}
]}
]
}
],
"config": {
 "font": "Liberation Sans",
 "view": {"stroke": "black", "strokeWidth": 2},
 "title": {"font": "Liberation Sans", "fontSize": 23, "fontWeight": "bold", "color": "black", "anchor": "middle"},
 "axis": {"labelFont": "Liberation Sans", "labelFontSize": 12, "labelFontWeight": "bold", "labelColor": "black", "titleFont": "Liberation Sans", "titleFontWeight": "bold", "titleColor": "black", "titleFontSize": 20, "domainColor": "black", "domainWidth": 2, "tickColor": "black", "tickWidth": 1, "grid": false},
 "axisX": {"titleFontSize": 21},
 "legend": {"labelFont": "Liberation Sans", "labelFontSize": 15, "labelFontWeight": "bold", "labelColor": "black", "labelLimit": 300}
}
}
